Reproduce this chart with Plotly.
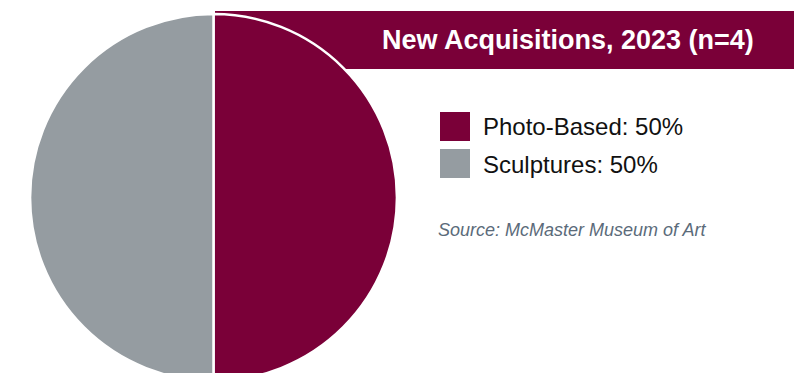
import plotly.graph_objects as go

# data
labels = ["Photo-Based", "Sculptures"]
values = [2, 2]
colors = ["#7A0038", "#959CA1"]
title_text = "New Acquisitions, 2023 (n=4)"
source_text = "Source: McMaster Museum of Art"

W, H = 794, 381

def px_x(x):
    return x / W

def px_y(y):
    return 1 - y / H

total = sum(values)

fig = go.Figure()
fig.add_trace(go.Pie(
    labels=labels,
    values=values,
    marker=dict(colors=colors, line=dict(color="white", width=2.5)),
    textinfo="none",
    hoverinfo="label+percent",
    sort=False,
    direction="clockwise",
    rotation=0,
    showlegend=False,
    domain=dict(x=[px_x(30), px_x(397)], y=[0, px_y(14)]),
))

shapes = []
annotations = []

# title banner (sits under the pie)
shapes.append(dict(type="rect", xref="paper", yref="paper", layer="below",
                   x0=px_x(215), x1=1, y0=px_y(69), y1=px_y(11),
                   fillcolor="#7A0038", line=dict(width=0)))
annotations.append(dict(text="<b>" + title_text + "</b>", xref="paper", yref="paper",
                        x=px_x(756), y=px_y(40), xanchor="right", yanchor="middle",
                        showarrow=False, font=dict(size=27, color="white",
                                                   family="Liberation Sans, Arial")))

# legend
for i, (lab, val, col) in enumerate(zip(labels, values, colors)):
    top = 112 + i * 37
    shapes.append(dict(type="rect", xref="paper", yref="paper",
                       x0=px_x(440), x1=px_x(470), y0=px_y(top + 29), y1=px_y(top),
                       fillcolor=col, line=dict(width=0)))
    pct = round(100 * val / total)
    annotations.append(dict(text=f"{lab}: {pct}%", xref="paper", yref="paper",
                            x=px_x(481), y=px_y(top + 15), xanchor="left", yanchor="middle",
                            showarrow=False, font=dict(size=24, color="#111111",
                                                       family="Liberation Sans, Arial")))

annotations.append(dict(text="<i>" + source_text + "</i>", xref="paper", yref="paper",
                        x=px_x(436), y=px_y(230), xanchor="left", yanchor="middle",
                        showarrow=False, font=dict(size=18, color="#5B6B7A",
                                                   family="Liberation Sans, Arial")))

fig.update_layout(
    width=W, height=H,
    margin=dict(l=0, r=0, t=0, b=0),
    paper_bgcolor="white",
    plot_bgcolor="white",
    shapes=shapes,
    annotations=annotations,
)

fig.write_html("out.html", config={"displayModeBar": False},
               post_script="document.body.style.margin='0';document.body.style.overflow='hidden';")
